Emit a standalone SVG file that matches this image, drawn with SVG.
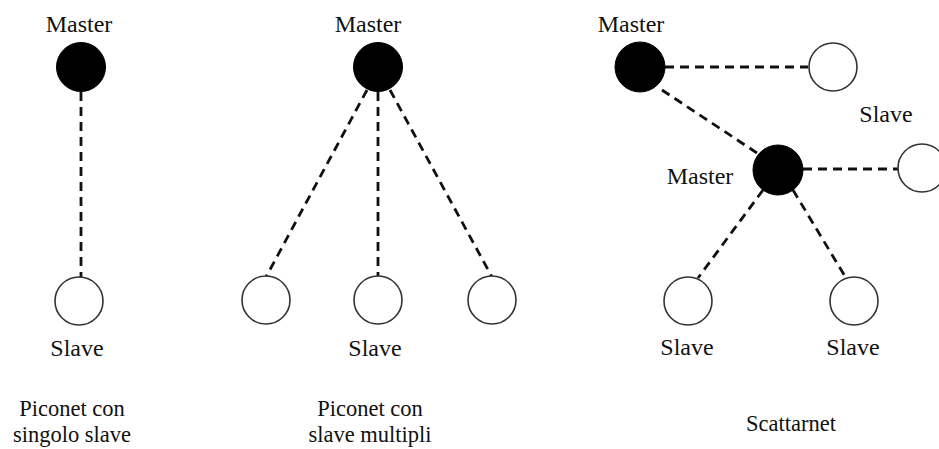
<svg xmlns="http://www.w3.org/2000/svg" width="939" height="449" viewBox="0 0 939 449">
<style>
  text { font-family: "Liberation Serif", "Times New Roman", serif; font-size: 24px; fill: #111; text-anchor: middle; }
  text.cap { font-size: 22.5px; }
  .master { fill: #000; stroke: #000; stroke-width: 1; }
  .slave { fill: #fff; stroke: #333; stroke-width: 1.6; }
  .link { stroke: #111; stroke-width: 2.8; stroke-dasharray: 9 6; fill: none; }
</style>
<rect width="939" height="449" fill="#fff"/>
<g id="connectors">
  <line class="link" x1="81" y1="92" x2="81" y2="277"/>
  <line class="link" x1="367" y1="90" x2="266" y2="277"/>
  <line class="link" x1="378" y1="92" x2="378" y2="277"/>
  <line class="link" x1="390" y1="90" x2="492" y2="277"/>
  <line class="link" x1="665" y1="67" x2="808" y2="67"/>
  <line class="link" x1="662" y1="90" x2="757" y2="153"/>
  <line class="link" x1="803" y1="169" x2="898" y2="169"/>
  <line class="link" x1="763" y1="190" x2="698" y2="278"/>
  <line class="link" x1="793" y1="190" x2="846" y2="278"/>
</g>
<g id="g1-master"><circle class="master" cx="81" cy="67" r="24.5"/><text x="79" y="32">Master</text></g>
<g id="g1-slave"><circle class="slave" cx="79" cy="301" r="24"/><text x="77" y="356">Slave</text></g>
<g id="g1-caption"><text class="cap" x="72" y="416">Piconet con</text><text class="cap" x="72" y="442">singolo slave</text></g>

<g id="g2-master"><circle class="master" cx="378" cy="67" r="24.5"/><text x="368" y="32">Master</text></g>
<g id="g2-slave1"><circle class="slave" cx="266" cy="300" r="24"/></g>
<g id="g2-slave2"><circle class="slave" cx="378" cy="300" r="24"/><text x="375" y="356">Slave</text></g>
<g id="g2-slave3"><circle class="slave" cx="492" cy="300" r="24"/></g>
<g id="g2-caption"><text class="cap" x="370" y="416">Piconet con</text><text class="cap" x="370" y="442">slave multipli</text></g>

<g id="g3-master1"><circle class="master" cx="640" cy="67" r="25"/><text x="631" y="32">Master</text></g>
<g id="g3-slave-top"><circle class="slave" cx="833" cy="67" r="24"/></g>
<g id="g3-master2"><circle class="master" cx="778" cy="170" r="25"/><text x="700" y="184">Master</text></g>
<g id="g3-slave-right"><circle class="slave" cx="922" cy="168" r="24"/><text x="886" y="122">Slave</text></g>
<g id="g3-slave-bl"><circle class="slave" cx="688" cy="301" r="24"/><text x="687" y="355">Slave</text></g>
<g id="g3-slave-br"><circle class="slave" cx="854" cy="301" r="24"/><text x="853" y="355">Slave</text></g>
<g id="g3-caption"><text class="cap" x="791" y="431">Scattarnet</text></g>
</svg>
